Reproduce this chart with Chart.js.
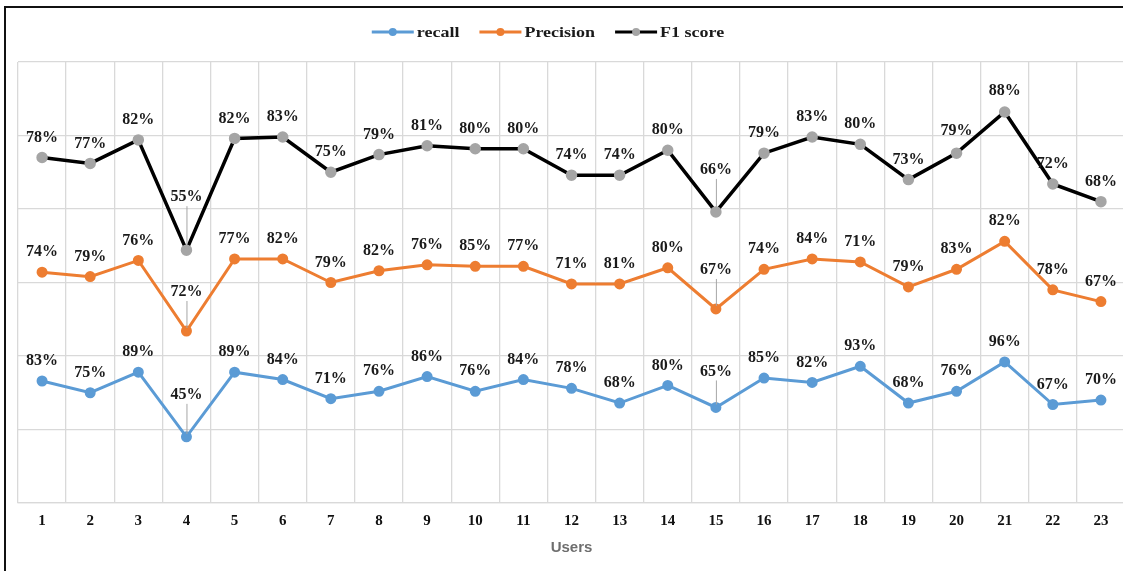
<!DOCTYPE html>
<html>
<head>
<meta charset="utf-8">
<script src="https://cdn.jsdelivr.net/npm/chart.js@4.4.1/dist/chart.umd.min.js"></script>
<style>
  html, body { margin: 0; padding: 0; overflow: hidden; background: #fff; }
  #wrap { position: absolute; left: 0; top: 0; width: 1135px; height: 571px; }
  #myChart { display: block; width: 1135px; height: 571px; }
  #frame { position: absolute; left: 4px; top: 6px; width: 1300px; height: 700px;
           border-left: 2px solid #111; border-top: 2px solid #111; pointer-events: none; }
</style>
</head>
<body>
<div id="wrap"><canvas id="myChart" width="1135" height="571"></canvas></div>
<div id="frame"></div>
<script>
// usuarios 1..23
const users = ["1","2","3","4","5","6","7","8","9","10","11","12","13","14","15","16","17","18","19","20","21","22","23"];
const recall    = [83, 75, 89, 45, 89, 84, 71, 76, 86, 76, 84, 78, 68, 80, 65, 85, 82, 93, 68, 76, 96, 67, 70];
const precision = [74, 79, 76, 72, 77, 82, 79, 82, 76, 85, 77, 71, 81, 80, 67, 74, 84, 71, 79, 83, 82, 78, 67];
const f1score   = [78, 77, 82, 55, 82, 83, 75, 79, 81, 80, 80, 74, 74, 80, 66, 79, 83, 80, 73, 79, 88, 72, 68];

const serif = "'Liberation Serif', 'Times New Roman', serif";

// etiquetas desplazadas con linea guia (dataset -> punto -> px hacia arriba)
const labelLift = {
  0: { 3: 42, 14: 36 },
  1: { 3: 39, 14: 39 },
  2: { 3: 53, 14: 42, 19: 22, 20: 21 }
};

const labelsPlugin = {
  id: 'pctLabels',
  afterDatasetsDraw(chart) {
    const ctx = chart.ctx;
    ctx.save();
    ctx.font = "bold 16px " + serif;
    ctx.textAlign = "center";
    ctx.textBaseline = "middle";
    chart.data.datasets.forEach((ds, di) => {
      const meta = chart.getDatasetMeta(di);
      meta.data.forEach((pt, i) => {
        const lift = (labelLift[di] && labelLift[di][i]) || 20;
        const ly = pt.y - lift;
        if (lift > 30) {
          ctx.strokeStyle = "#a6a6a6";
          ctx.lineWidth = 1;
          ctx.beginPath();
          ctx.moveTo(pt.x + 0.5, ly + 9);
          ctx.lineTo(pt.x + 0.5, pt.y - 3);
          ctx.stroke();
        }
        ctx.fillStyle = "#1a1a1a";
        ctx.fillText(ds.data[i] + "%", pt.x, ly);
      });
    });
    ctx.restore();
  }
};

// leyenda con linea + marcador, como la de Excel
const legendPlugin = {
  id: 'lineLegend',
  afterDraw(chart) {
    const ctx = chart.ctx;
    ctx.save();
    ctx.font = "bold 15px " + serif;
    ctx.textBaseline = "middle";
    const stretch = 1.2;
    const sets = chart.data.datasets;
    const lineW = 42, gap = 3, between = 20;
    let total = 0;
    sets.forEach((ds, i) => {
      total += lineW + gap + ctx.measureText(ds.label).width * stretch + (i < sets.length - 1 ? between : 0);
    });
    let x = 548 - total / 2;
    const y = 32;
    sets.forEach(ds => {
      ctx.strokeStyle = ds.borderColor;
      ctx.lineWidth = 3;
      ctx.beginPath();
      ctx.moveTo(x, y);
      ctx.lineTo(x + lineW, y);
      ctx.stroke();
      ctx.fillStyle = ds.pointBackgroundColor;
      ctx.beginPath();
      ctx.arc(x + lineW / 2, y, 4, 0, Math.PI * 2);
      ctx.fill();
      x += lineW + gap;
      ctx.fillStyle = "#1a1a1a";
      ctx.save();
      ctx.translate(x, y + 1);
      ctx.scale(stretch, 1);
      ctx.fillText(ds.label, 0, 0);
      ctx.restore();
      x += ctx.measureText(ds.label).width * stretch + between;
    });
    ctx.restore();
  }
};

let ctx = document.getElementById("myChart").getContext("2d");
let myChart = new Chart(ctx, {
  type: "line",
  data: {
    labels: users,
    datasets: [
      {
        label: "recall",
        data: recall,
        borderColor: "#5b9bd5",
        pointBackgroundColor: "#5b9bd5",
        pointBorderColor: "#5b9bd5",
        borderWidth: 3,
        pointRadius: 4,
        fill: false,
        tension: 0
      },
      {
        label: "Precision",
        data: precision,
        borderColor: "#ed7d31",
        pointBackgroundColor: "#ed7d31",
        pointBorderColor: "#ed7d31",
        borderWidth: 3,
        pointRadius: 4,
        fill: false,
        tension: 0
      },
      {
        label: "F1 score",
        data: f1score,
        borderColor: "#000000",
        pointBackgroundColor: "#a5a5a5",
        pointBorderColor: "#a5a5a5",
        borderWidth: 3.5,
        pointRadius: 4,
        fill: false,
        tension: 0
      }
    ]
  },
  options: {
    responsive: false,
    animation: false,
    layout: { padding: { top: 62, left: 18, right: 10, bottom: 16 } },
    plugins: {
      legend: { display: false },
      tooltip: { enabled: false }
    },
    scales: {
      x: {
        offset: true,
        grid: { offset: true, color: "#d9d9d9", lineWidth: 1.3, drawTicks: false },
        border: { color: "#d9d9d9", width: 1.3 },
        ticks: {
          color: "#111",
          padding: 11,
          font: { family: serif, size: 15, weight: "bold", lineHeight: 1 }
        },
        title: {
          display: true,
          text: "Users",
          color: "#6e6e6e",
          padding: { top: 0, bottom: 0 },
          font: { family: "'Liberation Sans', Arial, sans-serif", size: 15, weight: "bold", lineHeight: 1 }
        }
      },
      y: {
        stacked: true,
        min: 0,
        max: 300,
        ticks: { display: false, stepSize: 50 },
        grid: { color: "#d9d9d9", lineWidth: 1.3, drawTicks: false },
        border: { display: false }
      }
    }
  },
  plugins: [labelsPlugin, legendPlugin]
});
</script>
</body>
</html>
